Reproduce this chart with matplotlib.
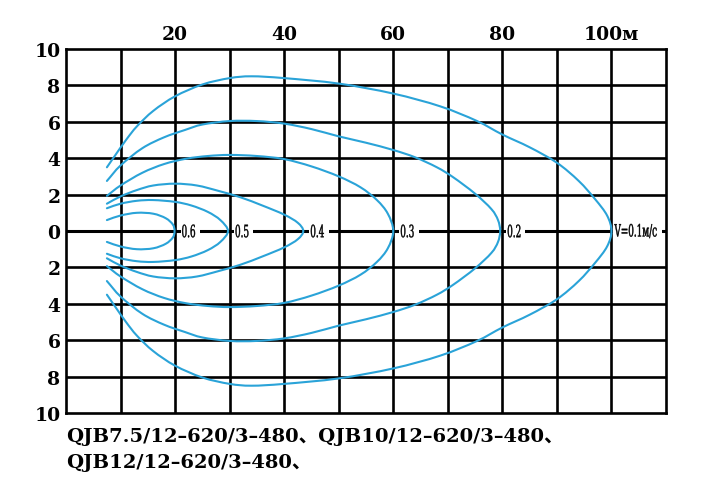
import numpy as np
import matplotlib
matplotlib.use("Agg")
import matplotlib.pyplot as plt
from matplotlib.path import Path
from matplotlib.patches import PathPatch, Rectangle
from matplotlib.textpath import TextPath
from matplotlib.font_manager import FontProperties
from matplotlib.transforms import Affine2D, ScaledTranslation

# Velocity contours (upper half; lower half is the mirror image)
x_01 = [7.5, 9, 11, 13, 16, 20, 25, 30, 34, 40, 50, 60, 68.6, 75.3, 80, 85, 90, 94, 97, 99.2, 100]
y_01 = [3.5, 4.15, 5.0, 5.75, 6.6, 7.4, 8.05, 8.4, 8.5, 8.4, 8.1, 7.55, 6.85, 6.05, 5.3, 4.6, 3.75, 2.75, 1.75, 0.85, 0]

x_02 = [7.5, 10, 14, 18, 21.8, 25, 30, 35, 40, 45, 50, 55, 60, 64, 68, 71, 75, 78, 79.2, 79.6]
y_02 = [2.75, 3.6, 4.55, 5.15, 5.55, 5.85, 6.04, 6.04, 5.9, 5.6, 5.2, 4.85, 4.45, 4.05, 3.5, 2.95, 2.05, 1.2, 0.6, 0]

x_03 = [7.5, 10, 14, 18, 22, 26, 30, 35, 40, 45, 50, 54, 57, 59, 60]
y_03 = [1.93, 2.5, 3.2, 3.68, 3.97, 4.12, 4.18, 4.12, 3.95, 3.55, 3.0, 2.4, 1.7, 0.95, 0]

x_04 = [7.5, 10, 13, 16, 20, 24, 28, 32, 36, 40, 42.5, 43.5]
y_04 = [1.5, 1.9, 2.25, 2.5, 2.6, 2.5, 2.2, 1.85, 1.4, 0.9, 0.45, 0]

x_05 = [7.5, 10, 13, 16, 20, 23, 26, 28.3, 29.7]
y_05 = [1.25, 1.5, 1.66, 1.7, 1.6, 1.4, 1.05, 0.6, 0]

x_06 = [7.5, 10, 13, 16, 18.3, 19.6, 19.9]
y_06 = [0.6, 0.85, 1.0, 0.95, 0.7, 0.35, 0]

curve_x = [x_01, x_02, x_03, x_04, x_05, x_06]
curve_y = [y_01, y_02, y_03, y_04, y_05, y_06]
curve_labels = ["V=0.1м/с", "0.2", "0.3", "0.4", "0.5", "0.6"]

top_ticks = [20, 40, 60, 80, 100]
top_labels = ["20", "40", "60", "80", "100м"]
left_ticks = [10, 8, 6, 4, 2, 0, -2, -4, -6, -8, -10]
left_labels = ["10", "8", "6", "4", "2", "0", "2", "4", "6", "8", "10"]

caption = ["QJB7.5/12–620/3–480、QJB10/12–620/3–480、",
           "QJB12/12–620/3–480、"]

blue = "#2aa3d8"
serif = ["DejaVu Serif", "Noto Sans CJK SC"]


def contour_path(xs, ys):
    # upper half left->right, then mirrored lower half back to the left
    px = np.concatenate([xs, xs[-2::-1]])
    py = np.concatenate([ys, -np.array(ys[-2::-1])])
    pts = np.column_stack([px, py]).astype(float)
    ext = np.vstack([2 * pts[0] - pts[1], pts, 2 * pts[-1] - pts[-2]])
    verts = [pts[0]]
    codes = [Path.MOVETO]
    for i in range(1, len(ext) - 2):
        p0, p1, p2, p3 = ext[i - 1], ext[i], ext[i + 1], ext[i + 2]
        verts += [p1 + (p2 - p0) / 6, p2 - (p3 - p1) / 6, p2]
        codes += [Path.CURVE4] * 3
    return Path(verts, codes)


def narrow_label(ax, tip, text, gap):
    # condensed label drawn as a squeezed text path, pixel offsets from the tip
    tp = TextPath((0, 0), text, size=17, prop=FontProperties(family="DejaVu Serif"))
    bb = tp.get_extents()
    sx = 0.52
    anchor = ScaledTranslation(tip, 0, ax.transData)
    tr = Affine2D().scale(sx, 1).translate(gap, -bb.height / 2 - bb.y0) + anchor
    w = bb.x1 * sx
    ax.add_patch(Rectangle((gap - 1, -8), w + 6, 16, facecolor="white",
                           edgecolor="none", transform=Affine2D() + anchor, zorder=4))
    ax.add_patch(PathPatch(tp, facecolor="black", edgecolor="black", lw=0.3,
                           transform=tr, zorder=5))


fig = plt.figure(figsize=(7.16, 4.89), dpi=100)
ax = fig.add_axes([66 / 716, 1 - 414 / 489, 600 / 716, 364 / 489])
ax.set_xlim(0, 110)
ax.set_ylim(-10, 10)

# grid
for gx in range(10, 110, 10):
    ax.axvline(gx, color="black", lw=1.9, zorder=1)
for gy in range(-8, 10, 2):
    ax.axhline(gy, color="black", lw=2.2 if gy == 0 else 1.9, zorder=1)
for s in ax.spines.values():
    s.set_linewidth(1.9)
    s.set_color("black")

# contours
for xs, ys, lab in zip(curve_x, curve_y, curve_labels):
    ax.add_patch(PathPatch(contour_path(xs, ys), fill=False, edgecolor=blue,
                           lw=1.5, zorder=3, capstyle="round"))
    narrow_label(ax, xs[-1], lab, 3 if lab.startswith("V") else 7)

# axis labels
ax.xaxis.tick_top()
ax.set_xticks(top_ticks)
ax.set_xticklabels(top_labels, family=serif, fontsize=13.5, fontweight="bold")
ax.set_yticks(left_ticks)
ax.set_yticklabels(left_labels, family=serif, fontsize=13.5, fontweight="bold")
ax.tick_params(length=0, pad=4)

fig.text(66 / 716, 1 - 437 / 489, caption[0], family=serif, fontsize=14,
         fontweight="bold", ha="left", va="center")
fig.text(66 / 716, 1 - 463 / 489, caption[1], family=serif, fontsize=14,
         fontweight="bold", ha="left", va="center")

fig.savefig("out.png", dpi=100)
